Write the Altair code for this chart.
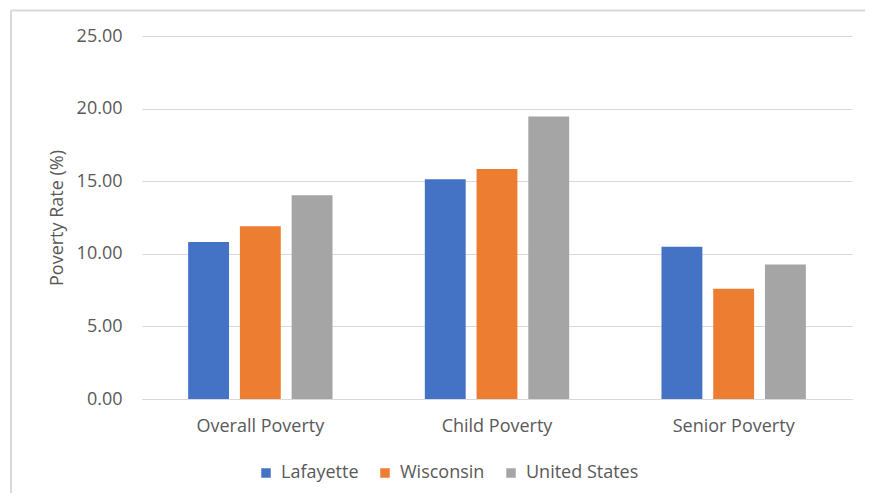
import altair as alt
import pandas as pd

categories = ["Overall Poverty", "Child Poverty", "Senior Poverty"]
series = ["Lafayette", "Wisconsin", "United States"]
lafayette = [10.82, 15.14, 10.48]
wisconsin = [11.89, 15.84, 7.60]
united_states = [14.04, 19.45, 9.27]
colors = ["#4472C4", "#ED7D31", "#A5A5A5"]
y_ticks = [0, 5, 10, 15, 20, 25]

rows = []
for name, vals in zip(series, [lafayette, wisconsin, united_states]):
    for c, v in zip(categories, vals):
        rows.append({"category": c, "series": name, "value": v})
df = pd.DataFrame(rows)

FONT = "Open Sans"
TXT = "#595959"
GRID = "#d9d9d9"
FS = 18

bars = alt.Chart(df).mark_bar().encode(
    x=alt.X("category:N", sort=categories, title=None,
            scale=alt.Scale(paddingInner=0.39, paddingOuter=0.195),
            axis=alt.Axis(labelAngle=0, ticks=False, domainColor=GRID, domainWidth=1,
                          labelPadding=18, labelFontSize=FS, labelColor=TXT, labelFont=FONT)),
    xOffset=alt.XOffset("series:N", sort=series,
                        scale=alt.Scale(paddingInner=0.21, paddingOuter=0)),
    y=alt.Y("value:Q", title="Poverty Rate (%)",
            scale=alt.Scale(domain=[0, 25], nice=False),
            axis=alt.Axis(values=y_ticks, format=".2f", domain=False, ticks=False,
                          gridColor=GRID, gridWidth=1, labelPadding=20,
                          labelFontSize=FS, labelColor=TXT, labelFont=FONT,
                          titleFontSize=FS, titleColor=TXT, titleFont=FONT,
                          titleFontWeight="normal", titlePadding=10)),
    color=alt.Color("series:N", sort=series,
                    scale=alt.Scale(domain=series, range=colors),
                    legend=alt.Legend(title=None, orient="none", direction="horizontal",
                                      legendX=115, legendY=428, symbolType="square",
                                      symbolSize=90, symbolStrokeWidth=0,
                                      labelFontSize=FS, labelColor=TXT, labelFont=FONT,
                                      columnPadding=17, labelOffset=6)),
)

border_top = alt.Chart(pd.DataFrame({"k": [0]})).mark_rule(color=GRID, strokeWidth=2).encode(
    x=alt.value(-131), x2=alt.value(760), y=alt.value(-25.5)
)
border_left = alt.Chart(pd.DataFrame({"k": [0]})).mark_rule(color=GRID, strokeWidth=2).encode(
    x=alt.value(-131), y=alt.value(-25.5), y2=alt.value(480)
)

chart = alt.layer(bars, border_top, border_left).properties(
    width=710, height=363,
    autosize=alt.AutoSizeParams(type="none"),
    padding={"left": 134, "top": 28, "right": 13, "bottom": 94},
).configure(background="white").configure_view(strokeWidth=0, stroke=None)

chart.save("out.html", embed_options={"renderer": "svg", "actions": False})
